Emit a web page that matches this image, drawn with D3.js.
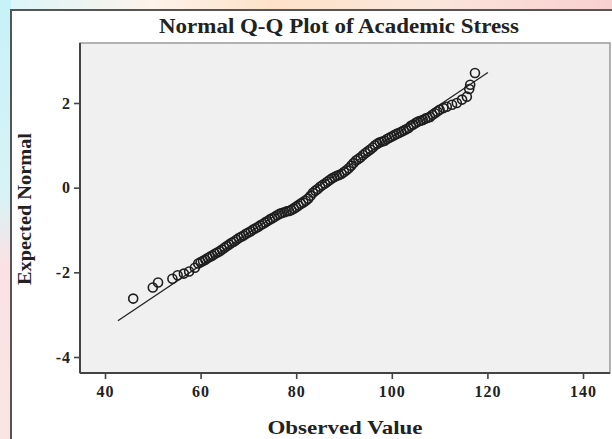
<!DOCTYPE html>
<html>
<head>
<meta charset="utf-8">
<script src="https://cdn.jsdelivr.net/npm/d3@7"></script>
<style>
  body { margin: 0; padding: 0; background: #fff; }
  text { font-family: "Liberation Serif", "Times New Roman", serif; font-weight: bold; fill: #222; }
</style>
</head>
<body>
<div id="chart"></div>
<script>
const observed = [
  45.9, 50.0, 51.1, 54.1, 55.2, 56.5, 57.6, 58.8,
  59.5, 60, 60.5, 61, 61.5, 62, 62.5, 63, 63.5, 64, 64.5, 65, 65.5, 66, 66.5, 67, 67.5,
  68, 68.5, 69, 69.5, 70, 70.5, 71, 71.5, 72, 72.5, 73, 73.5, 74, 74.5, 75, 75.5,
  76, 76.5, 77, 77.5, 78, 78.5, 79, 79.5, 80, 80.5, 81, 81.5, 82, 82.5, 83, 83.5,
  84, 84.5, 85, 85.5, 86, 86.5, 87, 87.5, 88, 88.5, 89, 89.5, 90, 90.5, 91, 91.5,
  92, 92.5, 93, 93.5, 94, 94.5, 95, 95.5, 96, 96.5, 97, 97.5, 98, 98.5, 99, 99.5,
  100, 100.5, 101, 101.5, 102, 102.5, 103, 103.5, 104, 104.5, 105, 105.5, 106, 106.5,
  107, 107.5, 108, 108.5, 109, 109.5, 110,
  110.8, 111.5, 112.6, 113.6, 114.7, 115.7, 116.2, 116.4, 117.4
];
const expected = [
  -2.62, -2.36, -2.24, -2.15, -2.07, -2.03, -1.98, -1.89,
  -1.79, -1.76, -1.73, -1.70, -1.66, -1.63, -1.60, -1.56, -1.53, -1.50, -1.46, -1.42, -1.38, -1.34, -1.30, -1.27, -1.23,
  -1.19, -1.16, -1.13, -1.09, -1.06, -1.03, -0.99, -0.96, -0.93, -0.89, -0.86, -0.82, -0.79, -0.75, -0.72, -0.69,
  -0.65, -0.62, -0.60, -0.58, -0.56, -0.55, -0.53, -0.50, -0.46, -0.42, -0.38, -0.35, -0.31, -0.26, -0.19, -0.12,
  -0.07, -0.03, 0.02, 0.06, 0.10, 0.14, 0.18, 0.22, 0.25, 0.28, 0.30, 0.33, 0.37, 0.41, 0.46, 0.52,
  0.58, 0.64, 0.68, 0.72, 0.77, 0.82, 0.86, 0.90, 0.95, 1.00, 1.04, 1.07, 1.09, 1.11, 1.15, 1.18,
  1.21, 1.24, 1.27, 1.29, 1.32, 1.35, 1.38, 1.41, 1.46, 1.49, 1.53, 1.56, 1.58, 1.60,
  1.63, 1.65, 1.67, 1.72, 1.76, 1.80, 1.84,
  1.88, 1.91, 1.96, 2.00, 2.08, 2.15, 2.33, 2.43, 2.71
];

// reference line: expected = (x - mean) / sd
const lineMean = 84.2;
const lineSd = 13.2;
const lineRange = [42.7, 120.1];

const xTicks = [40, 60, 80, 100, 120, 140];
const yTicks = [-4, -2, 0, 2];

const svgWidth = 612;
const svgHeight = 439;

const box = { left: 80, top: 43, right: 610, bottom: 373 };

const svg = d3.select("#chart")
  .append("svg")
  .attr("width", svgWidth)
  .attr("height", svgHeight);

// page background behind the frame
const defs = svg.append("defs");
const gTop = defs.append("linearGradient").attr("id", "bgTop");
gTop.append("stop").attr("offset", "0%").attr("stop-color", "#d9f6fa");
gTop.append("stop").attr("offset", "25%").attr("stop-color", "#fdf3ea");
gTop.append("stop").attr("offset", "45%").attr("stop-color", "#fde2c8");
gTop.append("stop").attr("offset", "70%").attr("stop-color", "#fbe6dc");
gTop.append("stop").attr("offset", "100%").attr("stop-color", "#f8cfcf");
const gLeft = defs.append("linearGradient").attr("id", "bgLeft")
  .attr("x1", 0).attr("y1", 0).attr("x2", 0).attr("y2", 1);
gLeft.append("stop").attr("offset", "0%").attr("stop-color", "#c6f2f8");
gLeft.append("stop").attr("offset", "45%").attr("stop-color", "#d8f3f6");
gLeft.append("stop").attr("offset", "60%").attr("stop-color", "#fbe1e4");
gLeft.append("stop").attr("offset", "100%").attr("stop-color", "#fbe5e4");

svg.append("rect").attr("x", 0).attr("y", 0).attr("width", svgWidth).attr("height", 11)
  .attr("fill", "url(#bgTop)");
svg.append("rect").attr("x", 0).attr("y", 0).attr("width", 11).attr("height", svgHeight)
  .attr("fill", "url(#bgLeft)");

// white frame
svg.append("rect")
  .attr("x", 11).attr("y", 10)
  .attr("width", svgWidth).attr("height", svgHeight)
  .attr("fill", "#fff")
  .attr("stroke", "#555")
  .attr("stroke-width", 2);

const xScale = d3.scaleLinear().domain([40, 140]).range([105, 583]);
const yScale = d3.scaleLinear().domain([-4, 2]).range([357, 103]);

// plot area
svg.append("rect")
  .attr("x", box.left).attr("y", box.top)
  .attr("width", box.right - box.left).attr("height", box.bottom - box.top)
  .attr("fill", "#f0f0f0")
  .attr("stroke", "#9a9a9a")
  .attr("stroke-width", 1.5);

const bottomAxis = d3.axisBottom(xScale).tickValues(xTicks).tickSize(6).tickPadding(7)
  .tickFormat(d => String(d));
const leftAxis = d3.axisLeft(yScale).tickValues(yTicks).tickSize(6).tickPadding(3)
  .tickFormat(d => String(d));

const xAxisG = svg.append("g")
  .attr("transform", `translate(0, ${box.bottom})`)
  .call(bottomAxis);
const yAxisG = svg.append("g")
  .attr("transform", `translate(${box.left}, 0)`)
  .call(leftAxis);

[xAxisG, yAxisG].forEach(g => {
  g.select(".domain").remove();
  g.selectAll(".tick line").attr("stroke", "#444").attr("stroke-width", 1.6);
  g.selectAll(".tick text")
    .attr("font-family", "\"Liberation Serif\", \"Times New Roman\", serif")
    .attr("font-weight", "bold")
    .attr("font-size", 16)
    .attr("letter-spacing", 1)
    .attr("fill", "#222");
});

// axis lines (darker left and bottom)
svg.append("line")
  .attr("x1", box.left).attr("x2", box.right)
  .attr("y1", box.bottom).attr("y2", box.bottom)
  .attr("stroke", "#444").attr("stroke-width", 2);
svg.append("line")
  .attr("x1", box.left).attr("x2", box.left)
  .attr("y1", box.top).attr("y2", box.bottom)
  .attr("stroke", "#444").attr("stroke-width", 2);

// reference line
svg.append("line")
  .attr("x1", xScale(lineRange[0]))
  .attr("y1", yScale((lineRange[0] - lineMean) / lineSd))
  .attr("x2", xScale(lineRange[1]))
  .attr("y2", yScale((lineRange[1] - lineMean) / lineSd))
  .attr("stroke", "#222")
  .attr("stroke-width", 1.3);

// points
const points = observed.map((v, i) => ({ x: v, y: expected[i] }));
svg.append("g")
  .selectAll("circle")
  .data(points)
  .enter()
  .append("circle")
  .attr("cx", d => xScale(d.x))
  .attr("cy", d => yScale(d.y))
  .attr("r", 4.5)
  .attr("fill", "none")
  .attr("stroke", "#1e1e1e")
  .attr("stroke-width", 1.6);

// titles
svg.append("text")
  .attr("x", 339)
  .attr("y", 33)
  .attr("text-anchor", "middle")
  .attr("font-size", 20)
  .attr("textLength", 360)
  .attr("lengthAdjust", "spacingAndGlyphs")
  .text("Normal Q-Q Plot of Academic Stress");

svg.append("text")
  .attr("transform", "translate(31, 209) rotate(-90)")
  .attr("text-anchor", "middle")
  .attr("font-size", 18)
  .attr("textLength", 152)
  .attr("lengthAdjust", "spacingAndGlyphs")
  .text("Expected Normal");

svg.append("text")
  .attr("x", 345)
  .attr("y", 434)
  .attr("text-anchor", "middle")
  .attr("font-size", 18)
  .attr("textLength", 155)
  .attr("lengthAdjust", "spacingAndGlyphs")
  .text("Observed Value");
</script>
</body>
</html>
